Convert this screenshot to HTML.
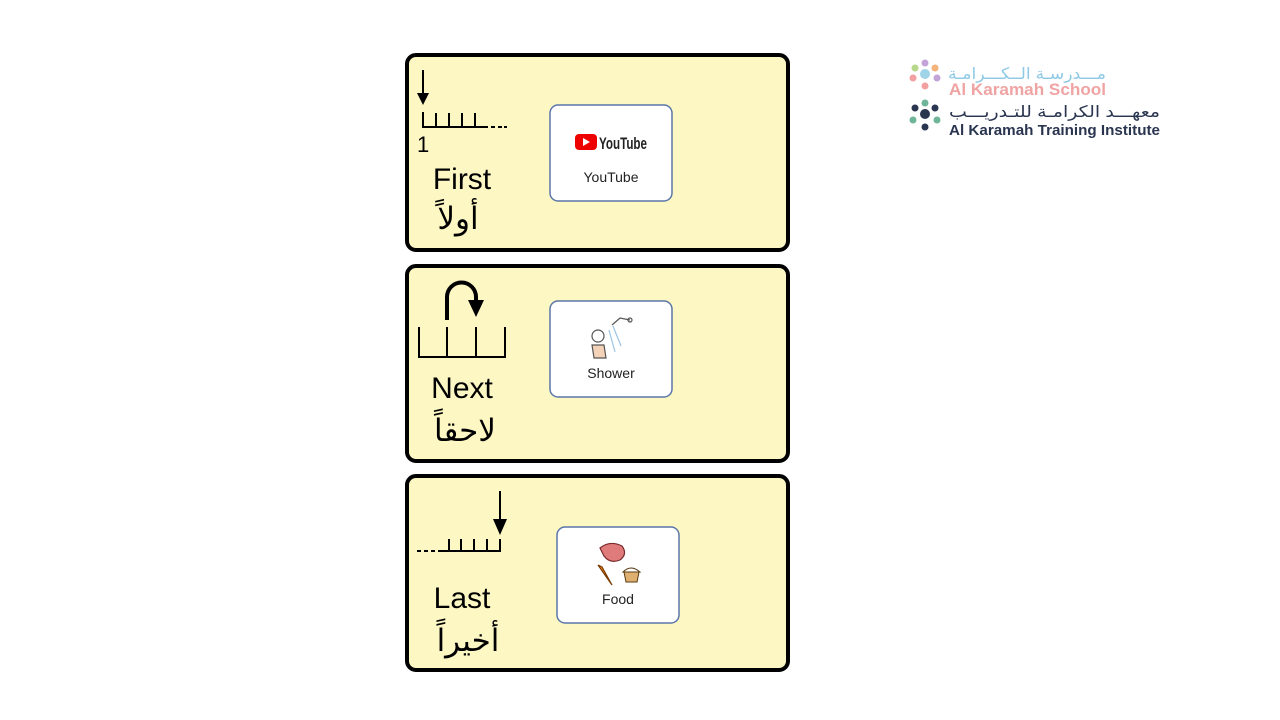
<!DOCTYPE html>
<html><head><meta charset="utf-8"><style>
html,body{margin:0;padding:0;background:#fff;width:1280px;height:720px;overflow:hidden}
svg{display:block}
text{font-family:"Liberation Sans","DejaVu Sans",sans-serif}
</style></head><body>
<svg width="1280" height="720" viewBox="0 0 1280 720" xmlns="http://www.w3.org/2000/svg">
<g fill="#fdf7c4" stroke="#000" stroke-width="4">
<rect x="407" y="55" width="381" height="195" rx="9"/>
<rect x="407" y="266" width="381" height="195" rx="9"/>
<rect x="407" y="476" width="381" height="194" rx="9"/>
</g>
<g fill="#fff" stroke="#5b76a8" stroke-width="1.5">
<rect x="550" y="105" width="122" height="96" rx="8"/>
<rect x="550" y="301" width="122" height="96" rx="8"/>
<rect x="557" y="527" width="122" height="96" rx="8"/>
</g>
<g stroke="#000" stroke-width="2" fill="none">
<line x1="423" y1="70" x2="423" y2="96"/>
<polyline points="423,112 423,127 488,127"/>
<line x1="436" y1="113" x2="436" y2="127"/>
<line x1="449" y1="113" x2="449" y2="127"/>
<line x1="462" y1="113" x2="462" y2="127"/>
<line x1="475" y1="113" x2="475" y2="127"/>
<line x1="491" y1="127" x2="495" y2="127"/><line x1="498" y1="127" x2="502" y2="127"/><line x1="504" y1="127" x2="507" y2="127"/>
</g>
<polygon points="417,93 429,93 423,105" fill="#000"/>
<text x="417" y="152" font-size="22" fill="#000">1</text>
<text x="462" y="189" font-size="30" text-anchor="middle" fill="#000">First</text>
<text x="458" y="229" font-size="31" text-anchor="middle" fill="#000" font-family="DejaVu Sans,sans-serif">أولاً</text>
<rect x="575" y="134" width="22" height="16" rx="4" fill="#e00"/>
<polygon points="583,138 583,146 590,142" fill="#fff"/>
<text x="599" y="149" font-size="17" font-weight="bold" fill="#222" textLength="48" lengthAdjust="spacingAndGlyphs">YouTube</text>
<text x="611" y="182" font-size="14" text-anchor="middle" fill="#222">YouTube</text>
<g stroke="#000" stroke-width="2" fill="none">
<polyline points="419,327 419,357 505,357 505,327"/>
<line x1="447" y1="327" x2="447" y2="357"/>
<line x1="476" y1="327" x2="476" y2="357"/>
<path d="M447,320 V297 A14.5,14.5 0 0 1 476,297 V302" stroke-width="4"/>
</g>
<polygon points="468,300 484,300 476,317" fill="#000"/>
<text x="462" y="398" font-size="30" text-anchor="middle" fill="#000">Next</text>
<text x="465" y="441" font-size="31" text-anchor="middle" fill="#000" font-family="DejaVu Sans,sans-serif">لاحقاً</text>
<g stroke="#555" stroke-width="1.2" fill="none">
<circle cx="598" cy="336" r="6"/>
<path d="M592,345 L604,345 L606,358 L594,358 Z" fill="#f3d2b8"/>
<path d="M612,325 L620,318 L630,320" />
<circle cx="630" cy="320" r="2"/>
<path d="M613,326 l8,20 M609,330 l6,22" stroke="#9cc4e4"/>
</g>
<text x="611" y="378" font-size="14" text-anchor="middle" fill="#222">Shower</text>
<g stroke="#000" stroke-width="2" fill="none">
<polyline points="438,551 500,551 500,539"/>
<line x1="449" y1="539" x2="449" y2="551"/>
<line x1="461" y1="539" x2="461" y2="551"/>
<line x1="474" y1="539" x2="474" y2="551"/>
<line x1="487" y1="539" x2="487" y2="551"/>
<line x1="417" y1="551" x2="421" y2="551"/><line x1="424" y1="551" x2="428" y2="551"/><line x1="431" y1="551" x2="435" y2="551"/>
<line x1="500" y1="491" x2="500" y2="520"/>
</g>
<polygon points="493,519 507,519 500,535" fill="#000"/>
<text x="462" y="608" font-size="30" text-anchor="middle" fill="#000">Last</text>
<text x="468" y="651" font-size="31" text-anchor="middle" fill="#000" font-family="DejaVu Sans,sans-serif">أخيراً</text>
<path d="M600,548 q10,-8 22,-2 q6,8 -2,14 q-10,4 -16,-4 z" fill="#e07b7b" stroke="#7a2b2b" stroke-width="1.2"/>
<path d="M598,565 l14,20 l-10,-18 z" fill="#f08a24" stroke="#7a3b00" stroke-width="1.2"/>
<path d="M624,572 h15 l-2,10 h-11 z" fill="#e0b070" stroke="#5a3b10"/>
<path d="M623,572 q8,-8 17,0 z" fill="#fff" stroke="#5a3b10"/>
<text x="618" y="604" font-size="14" text-anchor="middle" fill="#222">Food</text>
<g>
<circle cx="925" cy="74" r="5" fill="#9ed3e8"/>
<circle cx="915" cy="68" r="3.5" fill="#b7d78a"/><circle cx="935" cy="68" r="3.5" fill="#f3b37a"/>
<circle cx="913" cy="78" r="3.5" fill="#f2a0a0"/><circle cx="937" cy="78" r="3.5" fill="#c4a3d8"/>
<circle cx="925" cy="63" r="3.5" fill="#c4a3d8"/><circle cx="925" cy="86" r="3.5" fill="#f2a0a0"/>
<circle cx="925" cy="114" r="5" fill="#2a3550"/>
<circle cx="915" cy="108" r="3.5" fill="#2a3550"/><circle cx="935" cy="108" r="3.5" fill="#2a3550"/>
<circle cx="913" cy="120" r="3.5" fill="#6fb59a"/><circle cx="937" cy="120" r="3.5" fill="#6fb59a"/>
<circle cx="925" cy="103" r="3.5" fill="#6fb59a"/><circle cx="925" cy="127" r="3.5" fill="#2a3550"/>
</g>
<text x="948" y="79" font-size="16" fill="#8ecae6" font-family="DejaVu Sans,sans-serif" textLength="158" lengthAdjust="spacingAndGlyphs">مـــدرسـة الــكـــرامـة</text>
<text x="949" y="95" font-size="17" fill="#f0a3a3" font-weight="bold" textLength="157" lengthAdjust="spacingAndGlyphs">Al Karamah School</text>
<text x="949" y="117" font-size="16" fill="#2a3550" font-family="DejaVu Sans,sans-serif" textLength="211" lengthAdjust="spacingAndGlyphs">معهـــد الكرامـة للتـدريـــب</text>
<text x="949" y="135" font-size="15" fill="#2a3550" font-weight="bold" textLength="211" lengthAdjust="spacingAndGlyphs">Al Karamah Training Institute</text>
</svg>
</body></html>
